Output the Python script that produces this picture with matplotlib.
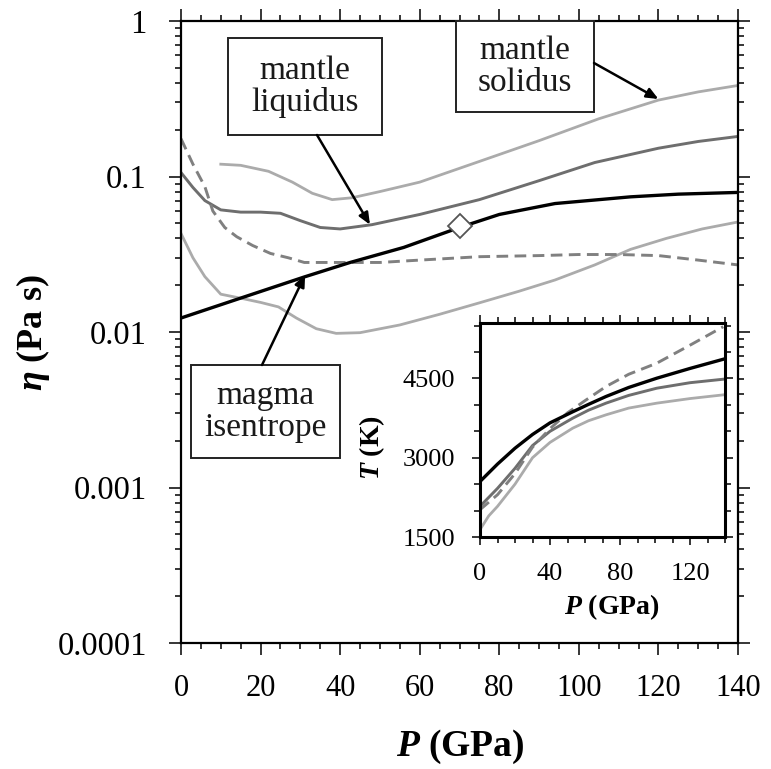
import matplotlib
matplotlib.use("Agg")
import matplotlib.pyplot as plt
from matplotlib.ticker import FixedLocator, MultipleLocator, FixedFormatter, LogLocator, NullFormatter
from matplotlib.patches import Rectangle

plt.rcParams['font.family'] = ['Liberation Serif', 'DejaVu Serif']
plt.rcParams['mathtext.fontset'] = 'custom'
plt.rcParams['mathtext.rm'] = 'Liberation Serif'
plt.rcParams['mathtext.it'] = 'Liberation Serif:italic'
plt.rcParams['mathtext.bf'] = 'Liberation Serif:bold'
try:
    plt.rcParams['mathtext.bfit'] = 'Liberation Serif:italic:bold'
except KeyError:
    pass

# ---------------- main panel data: viscosity vs pressure ----------------
solidus_hi_P = [10, 15, 22, 28, 33, 38, 43, 50, 60, 75, 90, 105, 120, 130, 140]
solidus_hi_eta = [0.12, 0.118, 0.108, 0.092, 0.078, 0.071, 0.073, 0.08, 0.092, 0.125, 0.17, 0.235, 0.31, 0.35, 0.385]

liquidus_P = [0, 3, 6, 10, 15, 20, 25, 30, 35, 40, 48, 60, 75, 90, 104, 120, 130, 140]
liquidus_eta = [0.106, 0.085, 0.07, 0.061, 0.059, 0.059, 0.058, 0.052, 0.047, 0.046, 0.049, 0.057, 0.071, 0.094, 0.123, 0.152, 0.168, 0.181]

isentrope_P = [0, 14, 31, 42.5, 56, 70, 80, 94, 113, 125, 140]
isentrope_eta = [0.0123, 0.0162, 0.0226, 0.028, 0.035, 0.047, 0.057, 0.067, 0.074, 0.077, 0.079]

dashed_P = [0, 3, 6, 8, 11, 14, 18, 22.5, 27, 31, 39, 50, 60, 75, 90, 100, 110, 120, 130, 140]
dashed_eta = [0.175, 0.12, 0.086, 0.06, 0.047, 0.041, 0.036, 0.032, 0.030, 0.028, 0.028, 0.028, 0.029, 0.0305, 0.031, 0.0315, 0.0315, 0.031, 0.029, 0.027]

solidus_lo_P = [0, 3, 6, 10, 15, 20, 24.5, 29, 34, 39, 45, 55, 65, 75, 85, 94, 104, 113, 122, 131, 140]
solidus_lo_eta = [0.043, 0.030, 0.0227, 0.0175, 0.0165, 0.0155, 0.0145, 0.0123, 0.0105, 0.0098, 0.0099, 0.0111, 0.013, 0.0154, 0.0183, 0.0216, 0.027, 0.034, 0.040, 0.046, 0.051]

diamond_P = [70]
diamond_eta = [0.048]

y_ticks = [1e-4, 1e-3, 1e-2, 1e-1, 1]
y_ticklabels = ['0.0001', '0.001', '0.01', '0.1', '1']
x_ticks = [0, 20, 40, 60, 80, 100, 120, 140]

# annotation targets (data)
liq_target = (47.5, 0.049)
sol_target = (120, 0.315)
isen_target = (31.2, 0.0233)

# ---------------- inset data: temperature vs pressure ----------------
in_black_P = [0, 10, 20, 30, 40, 53, 62, 72, 85, 101, 120, 139]
in_black_T = [2550, 2880, 3180, 3440, 3660, 3870, 4010, 4159, 4330, 4505, 4690, 4864]
in_liq_P = [0, 10, 20, 30, 40, 53, 62, 72, 85, 101, 120, 139]
in_liq_T = [2080, 2420, 2800, 3230, 3500, 3749, 3900, 4033, 4180, 4316, 4420, 4486]
in_sol_P = [0, 5, 10, 20, 30, 40, 53, 62, 72, 85, 101, 120, 139]
in_sol_T = [1640, 1900, 2080, 2500, 3000, 3290, 3560, 3700, 3812, 3940, 4033, 4120, 4190]
in_dash_P = [0, 10, 20, 30, 40, 50, 60, 72, 85, 101, 120, 139]
in_dash_T = [2017, 2300, 2700, 3200, 3550, 3850, 4080, 4348, 4580, 4789, 5130, 5480]
in_x_ticks = [0, 40, 80, 120]
in_y_ticks = [1500, 3000, 4500]

W, H = 771, 769
fig = plt.figure(figsize=(W / 100, H / 100), dpi=100)

def fr(x0, y0, x1, y1):
    return [x0 / W, 1 - y1 / H, (x1 - x0) / W, (y1 - y0) / H]

LIGHT = '#ababab'
MID = '#6e6e6e'
DASH = '#808080'

ax = fig.add_axes(fr(181, 21, 738, 643))
ax.set_yscale('log')
ax.plot(solidus_hi_P, solidus_hi_eta, color=LIGHT, lw=2.0)
ax.plot(solidus_lo_P, solidus_lo_eta, color=LIGHT, lw=2.0)
ax.plot(liquidus_P, liquidus_eta, color=MID, lw=2.1)
ax.plot(dashed_P, dashed_eta, color=DASH, lw=2.1, ls=(0, (4, 2.2)))
ax.plot(isentrope_P, isentrope_eta, color='black', lw=2.4)
ax.plot(diamond_P, diamond_eta, marker='D', ms=12, mfc='white', mec='#555555', mew=1.3, ls='none', zorder=5)

ax.set_xlim(0, 140)
ax.set_ylim(1e-4, 1)
ax.xaxis.set_major_locator(FixedLocator(x_ticks))
ax.xaxis.set_minor_locator(MultipleLocator(5))
ax.yaxis.set_major_locator(FixedLocator(y_ticks))
ax.yaxis.set_major_formatter(FixedFormatter(y_ticklabels))
ax.yaxis.set_minor_locator(LogLocator(base=10, subs=range(2, 10)))
ax.yaxis.set_minor_formatter(NullFormatter())
ax.tick_params(which='both', direction='out', top=True, right=True, width=1.1)
ax.tick_params(which='major', length=8.5)
ax.tick_params(which='minor', length=4.5)
ax.tick_params(axis='x', which='major', labelsize=22, pad=14)
ax.tick_params(axis='y', which='major', labelsize=23.5, pad=16)
for s in ax.spines.values():
    s.set_linewidth(1.6)

fig.text(460 / W, 1 - 747 / H, r'$\mathbfit{P}$ (GPa)', fontsize=27, fontweight='bold',
         ha='center', va='center')
fig.text(33 / W, 1 - 333 / H, r'$\mathbfit{\eta}$ (Pa s)', fontsize=26, fontweight='bold',
         ha='center', va='center', rotation=90)

# label boxes (axes fraction)
def axf(px, py):
    return ((px - 181) / 557, (643 - py) / 622)

def box(x0, y0, x1, y1, text):
    (fx0, fy1) = axf(x0, y0)
    (fx1, fy0) = axf(x1, y1)
    ax.add_patch(Rectangle((fx0, fy0), fx1 - fx0, fy1 - fy0, transform=ax.transAxes,
                           facecolor='white', edgecolor='#222222', lw=1.4, zorder=6, clip_on=False))
    ax.text((fx0 + fx1) / 2, (fy0 + fy1) / 2, text, transform=ax.transAxes, ha='center',
            va='center', fontsize=24, linespacing=1.05, zorder=7, color='#1a1a1a')

box(228, 38, 382, 135, 'mantle\nliquidus')
box(456, 21, 594, 112, 'mantle\nsolidus')
box(191, 365, 340, 458, 'magma\nisentrope')

arrow_kw = dict(arrowstyle='-|>,head_length=0.7,head_width=0.3', color='black', lw=1.8,
                shrinkA=0, shrinkB=0)
ax.annotate('', xy=liq_target, xycoords='data', xytext=axf(317, 135), textcoords='axes fraction',
            arrowprops=arrow_kw, zorder=8)
ax.annotate('', xy=sol_target, xycoords='data', xytext=axf(594, 63), textcoords='axes fraction',
            arrowprops=arrow_kw, zorder=8)
ax.annotate('', xy=isen_target, xycoords='data', xytext=axf(262, 365), textcoords='axes fraction',
            arrowprops=arrow_kw, zorder=8)

# ---------------- inset ----------------
ins = fig.add_axes(fr(480, 323, 725, 537))
ins.set_facecolor('white')
ins.plot(in_sol_P, in_sol_T, color=LIGHT, lw=2.0)
ins.plot(in_liq_P, in_liq_T, color=MID, lw=2.1)
ins.plot(in_dash_P, in_dash_T, color=DASH, lw=2.1, ls=(0, (4, 2.2)))
ins.plot(in_black_P, in_black_T, color='black', lw=2.4)
ins.set_xlim(0, 140)
ins.set_ylim(1500, 5550)
ins.xaxis.set_major_locator(FixedLocator(in_x_ticks))
ins.xaxis.set_minor_locator(MultipleLocator(10))
ins.yaxis.set_major_locator(FixedLocator(in_y_ticks))
ins.yaxis.set_minor_locator(MultipleLocator(500))
ins.tick_params(which='both', direction='out', top=True, right=True, width=1.1, labelsize=19)
ins.tick_params(which='major', length=6)
ins.tick_params(which='minor', length=4)
ins.tick_params(axis='x', pad=13)
ins.tick_params(axis='y', pad=12)
for s in ins.spines.values():
    s.set_linewidth(2.2)
fig.text(612 / W, 1 - 607 / H, r'$\mathbfit{P}$ (GPa)', fontsize=20, fontweight='bold',
         ha='center', va='center')
fig.text(372 / W, 1 - 448 / H, r'$\mathbfit{T}$ (K)', fontsize=20, fontweight='bold',
         ha='center', va='center', rotation=90)

fig.savefig('out.png', dpi=100)
